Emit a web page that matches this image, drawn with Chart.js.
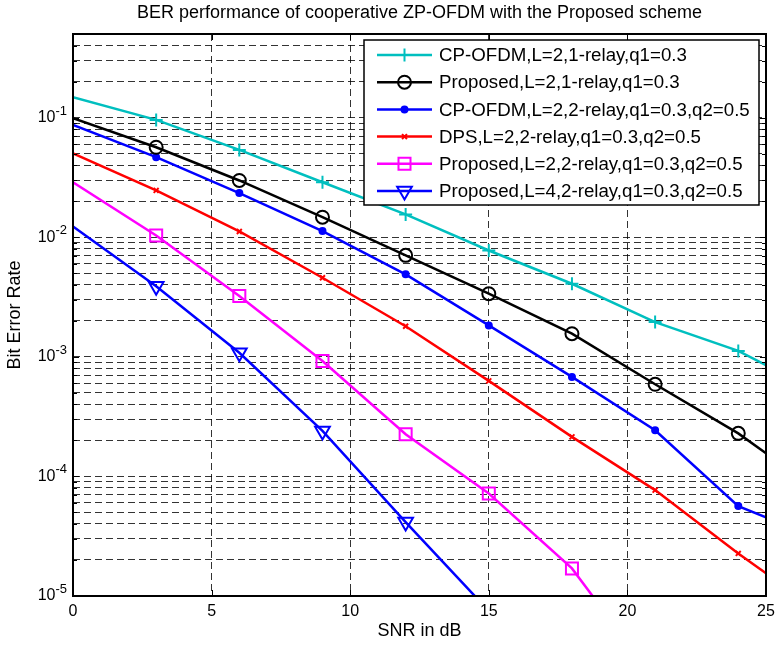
<!DOCTYPE html>
<html>
<head>
<meta charset="utf-8">
<title>BER performance</title>
<script src="https://cdn.jsdelivr.net/npm/chart.js@4.4.1/dist/chart.umd.min.js"></script>
<style>
  html, body { margin: 0; padding: 0; background: #fff; }
  #wrap { width: 777px; height: 646px; }
</style>
</head>
<body>
<div id="wrap"><canvas id="berChart" width="777" height="646"></canvas></div>
<script>
// SNR points (dB) where the curves were sampled
const snr = [0, 3, 6, 9, 12, 15, 18, 21, 24, 25];
const markerSnr = [3, 6, 9, 12, 15, 18, 21, 24];

// BER values
const cpOfdm1Relay = [0.148, 0.0957, 0.0537, 0.0288, 0.0155, 0.00774, 0.00408, 0.00195, 0.00112, 0.00085];
const proposed1Relay = [0.0987, 0.0565, 0.0298, 0.0147, 0.00705, 0.00337, 0.00156, 0.000589, 0.000229, 0.000156];
const cpOfdm2Relay = [0.0869, 0.0467, 0.0234, 0.01125, 0.00489, 0.00183, 0.000679, 0.000243, 0.0000565, 0.0000454];
const dps2Relay = [0.0503, 0.0246, 0.01117, 0.00458, 0.0018, 0.000629, 0.000214, 0.0000768, 0.0000227, 0.0000155];
const proposedL2 = [0.0288, 0.01035, 0.00322, 0.000923, 0.000225, 0.0000719, 0.000017, 0.000002];
const proposedL4 = [0.0123, 0.00389, 0.00108, 0.00024, 0.0000415, 0.0000075];

const seriesLabels = [
    'CP-OFDM,L=2,1-relay,q1=0.3',
    'Proposed,L=2,1-relay,q1=0.3',
    'CP-OFDM,L=2,2-relay,q1=0.3,q2=0.5',
    'DPS,L=2,2-relay,q1=0.3,q2=0.5',
    'Proposed,L=2,2-relay,q1=0.3,q2=0.5',
    'Proposed,L=4,2-relay,q1=0.3,q2=0.5'
];

const xTicks = [0, 5, 10, 15, 20, 25];
const yMin = 1e-5;
const yMax = 0.5;

const FONT = "'Liberation Sans', Arial, Helvetica, sans-serif";

// marker look for each series
const markers = [
    { color: '#00BFBF', style: 'cross', radius: 6.5, rotation: 0, fill: false },
    { color: '#000000', style: 'circle', radius: 6.5, rotation: 0, fill: false },
    { color: '#0000FF', style: 'circle', radius: 3, rotation: 0, fill: true },
    { color: '#FF0000', style: 'crossRot', radius: 3.5, rotation: 0, fill: false },
    { color: '#FF00FF', style: 'rect', radius: 8.5, rotation: 0, fill: false },
    { color: '#0000FF', style: 'triangle', radius: 8.5, rotation: 180, fill: false }
];

const seriesValues = [cpOfdm1Relay, proposed1Relay, cpOfdm2Relay, dps2Relay, proposedL2, proposedL4];

function isDecade(v) {
    const e = Math.log10(v);
    return Math.abs(e - Math.round(e)) < 1e-9;
}

const datasets = seriesValues.map((vals, i) => {
    const m = markers[i];
    const pts = vals.map((v, j) => ({ x: snr[j], y: v }));
    return {
        label: seriesLabels[i],
        data: pts,
        borderColor: m.color,
        borderWidth: 2.5,
        tension: 0,
        pointStyle: m.style,
        pointRotation: m.rotation,
        pointBorderColor: m.color,
        pointBackgroundColor: m.fill ? m.color : 'rgba(0,0,0,0)',
        pointBorderWidth: 2,
        pointRadius: ctx => {
            const p = pts[ctx.dataIndex];
            return (p && markerSnr.includes(p.x) && p.y >= yMin) ? m.radius : 0;
        }
    };
});

// box, inner tick marks, y tick labels with exponents, title
const framePlugin = {
    id: 'frame',
    afterDraw(chart) {
        const { ctx, chartArea: a, scales: { x, y } } = chart;
        ctx.save();
        ctx.strokeStyle = '#000';
        ctx.lineWidth = 1;
        ctx.beginPath();
        xTicks.forEach(v => {
            const px = Math.round(x.getPixelForValue(v)) + 0.5;
            ctx.moveTo(px, a.bottom); ctx.lineTo(px, a.bottom - 6);
            ctx.moveTo(px, a.top); ctx.lineTo(px, a.top + 6);
        });
        y.ticks.forEach(t => {
            const py = Math.round(y.getPixelForValue(t.value)) + 0.5;
            const len = isDecade(t.value) ? 6 : 4;
            ctx.moveTo(a.left, py); ctx.lineTo(a.left + len, py);
            ctx.moveTo(a.right, py); ctx.lineTo(a.right - len, py);
        });
        ctx.stroke();

        ctx.lineWidth = 2;
        ctx.strokeRect(a.left, a.top, a.right - a.left, a.bottom - a.top);

        // y labels 10^n
        ctx.fillStyle = '#000';
        y.ticks.forEach(t => {
            if (!isDecade(t.value)) return;
            const e = Math.round(Math.log10(t.value));
            const py = y.getPixelForValue(t.value);
            const right = a.left - 6;
            ctx.textAlign = 'right';
            ctx.font = '13px ' + FONT;
            ctx.textBaseline = 'alphabetic';
            const expText = String(e);
            const expW = ctx.measureText(expText).width;
            ctx.fillText(expText, right, py - 3);
            ctx.font = '16px ' + FONT;
            ctx.textBaseline = 'middle';
            ctx.fillText('10', right - expW, py);
        });

        // title
        ctx.font = '18px ' + FONT;
        ctx.textAlign = 'center';
        ctx.textBaseline = 'middle';
        ctx.fillText('BER performance of cooperative ZP-OFDM with the Proposed scheme', (a.left + a.right) / 2, 13);
        ctx.restore();
    }
};

// legend box in the upper right corner of the plot
const legendPlugin = {
    id: 'boxLegend',
    afterDraw(chart) {
        const { ctx, chartArea: a } = chart;
        const bw = 395, bh = 165;
        const bx = a.right - bw - 7;
        const by = a.top + 6;
        ctx.save();
        ctx.fillStyle = '#fff';
        ctx.fillRect(bx, by, bw, bh);
        ctx.strokeStyle = '#000';
        ctx.lineWidth = 1.5;
        ctx.strokeRect(bx, by, bw, bh);

        chart.data.datasets.forEach((ds, i) => {
            const m = markers[i];
            const ey = by + 15 + i * 27.2;
            ctx.strokeStyle = m.color;
            ctx.lineWidth = 2.5;
            ctx.beginPath();
            ctx.moveTo(bx + 13, ey);
            ctx.lineTo(bx + 68, ey);
            ctx.stroke();
            ctx.fillStyle = m.fill ? m.color : 'rgba(0,0,0,0)';
            ctx.lineWidth = 2;
            Chart.helpers.drawPoint(ctx, {
                pointStyle: m.style,
                rotation: m.rotation,
                radius: m.radius,
                borderWidth: 2
            }, bx + 40.5, ey);
            ctx.fillStyle = '#000';
            ctx.font = '18.7px ' + FONT;
            ctx.textAlign = 'left';
            ctx.textBaseline = 'middle';
            ctx.fillText(ds.label, bx + 75, ey + 1);
        });
        ctx.restore();
    }
};

const gridColor = 'rgba(0,0,0,0.8)';

new Chart(document.getElementById('berChart').getContext('2d'), {
    type: 'line',
    data: { datasets: datasets },
    options: {
        responsive: false,
        animation: false,
        devicePixelRatio: 1,
        layout: { padding: { left: 0, top: 34, right: 11, bottom: 0 } },
        plugins: {
            legend: { display: false },
            tooltip: { enabled: false }
        },
        scales: {
            x: {
                type: 'linear',
                min: 0,
                max: 25,
                afterFit: s => { s.height = 50; s.paddingLeft = 0; s.paddingRight = 0; },
                afterBuildTicks: s => { s.ticks = xTicks.map(v => ({ value: v })); },
                ticks: {
                    color: '#000',
                    padding: 6,
                    font: { family: FONT, size: 16 },
                    maxRotation: 0
                },
                grid: { color: gridColor, drawTicks: false, lineWidth: 1 },
                border: { display: false, dash: [7, 4] },
                title: {
                    display: true,
                    text: 'SNR in dB',
                    color: '#000',
                    font: { family: FONT, size: 18 },
                    padding: { bottom: 4, top: 0 }
                }
            },
            y: {
                type: 'logarithmic',
                min: yMin,
                max: yMax,
                afterFit: s => { s.width = 73; s.paddingTop = 0; s.paddingBottom = 0; },
                afterBuildTicks: s => {
                    const t = [];
                    for (let e = -5; e <= -1; e++) {
                        for (let k = 1; k <= 9; k++) {
                            const v = k * Math.pow(10, e);
                            if (v <= yMax * 1.0001) t.push({ value: v });
                        }
                    }
                    s.ticks = t;
                },
                ticks: { display: false, autoSkip: false },
                grid: { color: gridColor, drawTicks: false, lineWidth: 1 },
                border: { display: false, dash: [7, 4] },
                title: {
                    display: true,
                    text: 'Bit Error Rate',
                    color: '#000',
                    font: { family: FONT, size: 18 },
                    padding: { top: 4, bottom: 0 }
                }
            }
        }
    },
    plugins: [framePlugin, legendPlugin]
});
</script>
</body>
</html>
